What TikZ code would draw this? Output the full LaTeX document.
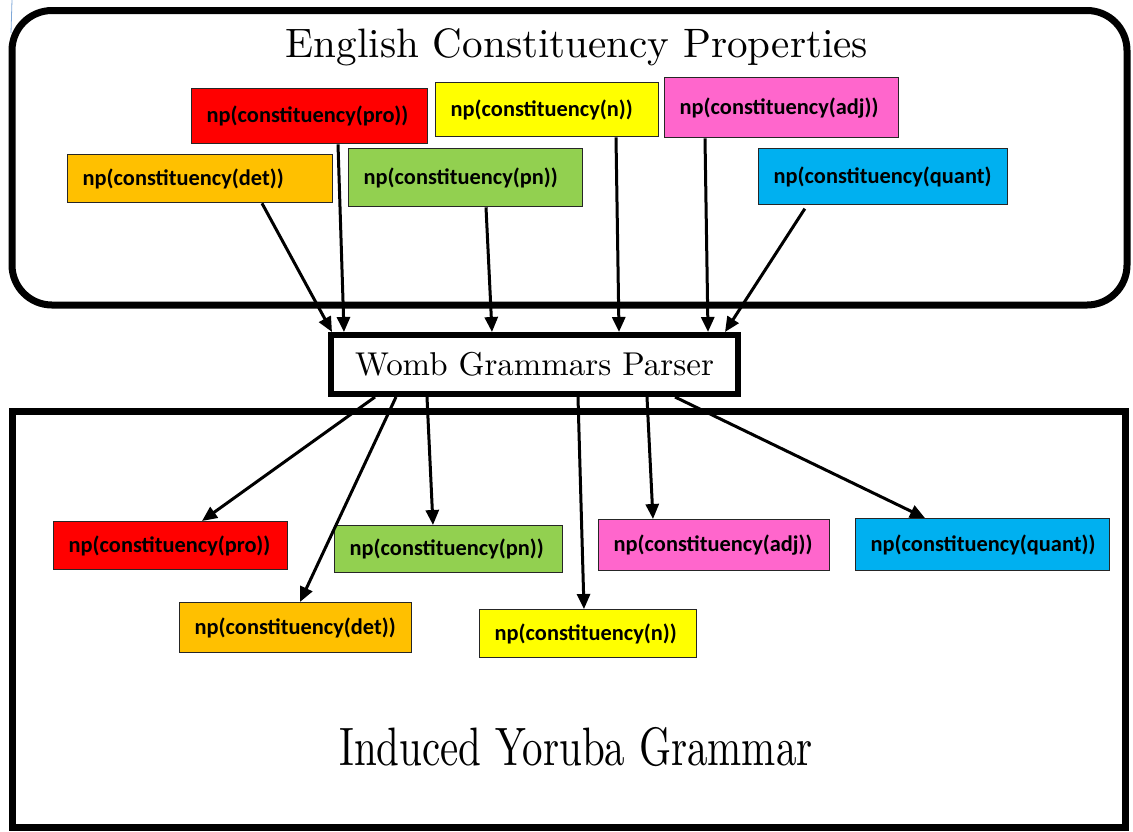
\documentclass[tikz,border=0pt]{standalone}
\usepackage{fontspec}
\newfontfamily\lblfont{Carlito}
\newfontfamily\ttlfont{lmroman10-regular}[Extension=.otf]
\usetikzlibrary{arrows.meta}
\definecolor{cred}{HTML}{FF0000}
\definecolor{cyellow}{HTML}{FFFF00}
\definecolor{cpink}{HTML}{FF66CC}
\definecolor{corange}{HTML}{FFC000}
\definecolor{cgreen}{HTML}{92D050}
\definecolor{cblue}{HTML}{00B0F0}
\definecolor{artblue}{HTML}{7FA8D8}
\begin{document}
\begin{tikzpicture}[x=1pt,y=-1pt,
  cbox/.style={draw=black!85, line width=1.3pt, anchor=north west, inner xsep=15pt, inner ysep=0pt,
    align=left, font=\lblfont\bfseries\fontsize{22.4}{26}\selectfont, text=black},
  frame/.style={draw=black, line width=7pt},
  arr/.style={draw=black, line width=3pt, -{Triangle[length=15pt,width=13pt]}},
  ]
\useasboundingbox (0,0) rectangle (1133,831);
% faint artifact line
\draw[artblue, line width=0.8pt] (12,0) -- (11,33);
% containers
\draw[frame, rounded corners=40pt] (12,10.5) rectangle (1127,305);
\draw[frame] (12,411) rectangle (1125,827);
% titles
\node[anchor=base, font=\ttlfont\fontsize{41.1}{48}\selectfont, inner sep=0pt] (ttl) at (577,57) {English Constituency Properties};
\node[anchor=base, inner sep=0pt] (btl) at (576,765) {\scalebox{1}[1.32]{\ttlfont\fontsize{41}{48}\selectfont Induced Yoruba Grammar}};
% parser
\node[draw=black, line width=6pt, minimum width=407pt, minimum height=59pt, inner sep=0pt,
  font=\ttlfont\fontsize{33}{40}\selectfont] (womb) at (534.5,364.5) {Womb Grammars Parser};
% top boxes
\node[cbox, fill=cred, text width=206pt, minimum height=55pt] (tpro) at (191,88) {np(constituency(pro))};
\node[cbox, fill=corange, text width=235pt, minimum height=48pt] (tdet) at (67,154) {np(constituency(det))};
\node[cbox, fill=cgreen, text width=204pt, minimum height=58pt] (tpn) at (348,148) {np(constituency(pn))};
\node[cbox, fill=cyellow, text width=193pt, minimum height=54pt] (tn) at (435,82) {np(constituency(n))};
\node[cbox, fill=cpink, text width=204pt, minimum height=60pt] (tadj) at (664,77) {np(constituency(adj))};
\node[cbox, fill=cblue, text width=219pt, minimum height=56pt] (tquant) at (758,148) {np(constituency(quant)};
% bottom boxes
\node[cbox, fill=cred, text width=204pt, minimum height=48pt] (bpro) at (53,521) {np(constituency(pro))};
\node[cbox, fill=corange, text width=202pt, minimum height=50pt] (bdet) at (179,602) {np(constituency(det))};
\node[cbox, fill=cgreen, text width=198pt, minimum height=47pt] (bpn) at (334,525) {np(constituency(pn))};
\node[cbox, fill=cyellow, text width=187pt, minimum height=48pt] (bn) at (479,609) {np(constituency(n))};
\node[cbox, fill=cpink, text width=201pt, minimum height=51pt] (badj) at (598,519) {np(constituency(adj))};
\node[cbox, fill=cblue, text width=224pt, minimum height=52pt] (bquant) at (855,518) {np(constituency(quant))};
% arrows into parser
\draw[arr] ([xshift=195]tdet.south west) -- ([xshift=4]womb.north west);
\draw[arr] ([xshift=147]tpro.south west) -- ([xshift=16]womb.north west);
\draw[arr] ([xshift=138]tpn.south west) -- ([xshift=164]womb.north west);
\draw[arr] ([xshift=181]tn.south west) -- ([xshift=291]womb.north west);
\draw[arr] ([xshift=41]tadj.south west) -- ([xshift=380]womb.north west);
\draw[arr, shorten <=4pt] ([xshift=49]tquant.south west) -- ([xshift=397]womb.north west);
% arrows out of parser
\draw[arr] ([xshift=47]womb.south west) -- ([xshift=149]bpro.north west);
\draw[arr] ([xshift=68]womb.south west) -- ([xshift=121]bdet.north west);
\draw[arr] ([xshift=99]womb.south west) -- ([xshift=99]bpn.north west);
\draw[arr] ([xshift=250]womb.south west) -- ([xshift=105]bn.north west);
\draw[arr] ([xshift=319]womb.south west) -- ([xshift=55]badj.north west);
\draw[arr] ([xshift=347]womb.south west) -- ([xshift=70]bquant.north west);
\end{tikzpicture}
\end{document}
